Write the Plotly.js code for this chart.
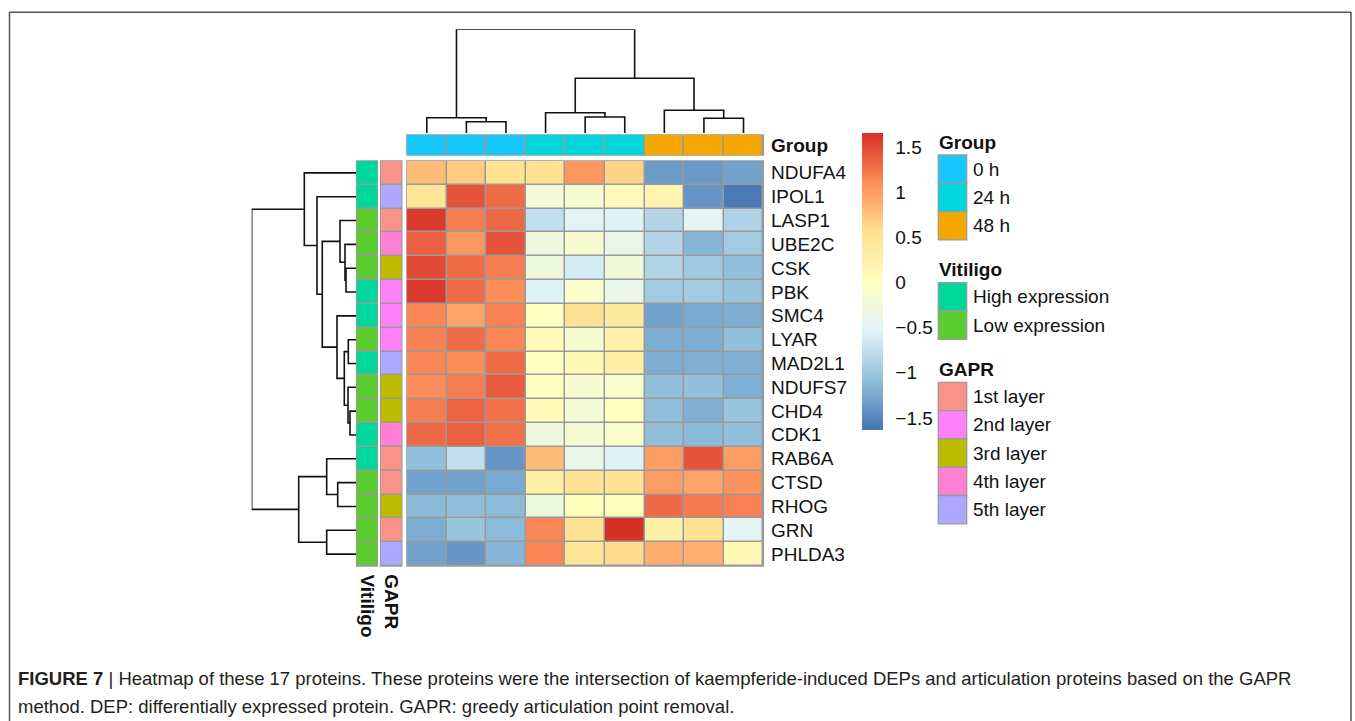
<!DOCTYPE html>
<html><head><meta charset="utf-8">
<script src="https://cdn.plot.ly/plotly-3.0.1.min.js"></script>
<style>html,body{margin:0;padding:0;background:#fff}#chart{width:1355px;height:721px}</style>
</head><body><div id="chart"></div>
<script>
// ---------------- data ----------------
const proteins = ['NDUFA4','IPOL1','LASP1','UBE2C','CSK','PBK','SMC4','LYAR','MAD2L1','NDUFS7','CHD4','CDK1','RAB6A','CTSD','RHOG','GRN','PHLDA3'];
const sampleGroup = ['0 h','0 h','0 h','24 h','24 h','24 h','48 h','48 h','48 h'];
const groupLevels = ['0 h','24 h','48 h'];
const groupColors = ['#18C8FC','#00D6DC','#F4A700'];
const vitiligo = ['High expression','High expression','Low expression','Low expression','Low expression','High expression','High expression','Low expression','High expression','Low expression','Low expression','High expression','High expression','Low expression','Low expression','Low expression','Low expression'];
const vitiligoLevels = ['High expression','Low expression'];
const vitiligoColors = ['#00D79B','#5CCD2E'];
const gapr = ['1st layer','5th layer','1st layer','4th layer','3rd layer','2nd layer','2nd layer','2nd layer','5th layer','3rd layer','3rd layer','4th layer','1st layer','1st layer','3rd layer','1st layer','5th layer'];
const gaprLevels = ['1st layer','2nd layer','3rd layer','4th layer','5th layer'];
const gaprColors = ['#F99289','#FF80F8','#BDBB00','#FF80D3','#ACA8FF'];
const zScores = [
  [0.80, 0.70, 0.55, 0.55, 1.05, 0.65, -1.35, -1.37, -1.30],
  [0.45, 1.45, 1.30, -0.20, -0.15, 0.10, 0.20, -1.40, -1.60],
  [1.60, 1.20, 1.32, -0.75, -0.52, -0.55, -0.85, -0.48, -0.88],
  [1.38, 1.05, 1.45, -0.30, -0.15, -0.40, -0.85, -1.15, -0.97],
  [1.50, 1.30, 1.20, -0.28, -0.60, -0.25, -0.87, -0.98, -1.08],
  [1.60, 1.30, 1.10, -0.55, -0.10, -0.38, -0.97, -0.97, -1.03],
  [1.15, 0.95, 1.17, 0.00, 0.50, 0.38, -1.30, -1.25, -1.22],
  [1.17, 1.30, 1.15, 0.10, -0.15, 0.25, -1.22, -1.22, -1.08],
  [1.15, 1.10, 1.30, 0.00, 0.12, 0.30, -1.22, -1.20, -1.20],
  [1.10, 1.20, 1.40, 0.00, -0.15, -0.10, -1.08, -1.08, -1.20],
  [1.20, 1.35, 1.27, 0.10, -0.20, 0.00, -1.10, -1.20, -1.02],
  [1.32, 1.38, 1.28, -0.30, -0.18, -0.10, -1.10, -1.13, -1.08],
  [-1.08, -0.75, -1.40, 0.80, -0.40, -0.55, 1.00, 1.45, 1.00],
  [-1.30, -1.30, -1.25, 0.30, 0.50, 0.50, 1.00, 0.95, 1.07],
  [-1.13, -1.10, -1.12, -0.30, 0.05, 0.03, 1.32, 1.22, 1.17],
  [-1.22, -1.02, -1.12, 1.15, 0.55, 1.65, 0.30, 0.50, -0.48],
  [-1.30, -1.38, -1.15, 1.15, 0.47, 0.60, 0.90, 0.88, 0.15]
];
// hclust-style merges (negative = leaf, positive = earlier merge)
const colMergeA = [-2, -1, -5, -4, -8, -7, 4, 2];
const colMergeB = [-3, 1, -6, 3, -9, 5, 6, 7];
const colMergeH = [11.3, 15.3, 16, 20.3, 14.7, 22.7, 54.7, 103.7];
const rowMergeA = [-11, -8, -10, -5, -4, 2, -3, -14, -7, -13, -16, 7, -2, -1, 10, 14];
const rowMergeB = [-12, -9, 1, -6, 4, 3, 5, -15, 6, 8, -17, 9, 12, 13, 11, 15];
const rowMergeH = [6, 7.7, 8, 10, 11, 11.7, 16, 18.3, 19, 29.3, 29.3, 33.7, 39, 51.7, 57.3, 104.3];
const cbTicks = [-1.5, -1, -0.5, 0, 0.5, 1, 1.5];
const zRange = [-1.633, 1.655];
const palette = ['#4575B4','#91BFDB','#E0F3F8','#FFFFBF','#FEE090','#FC8D59','#D73027'];

// ---------------- layout helpers ----------------
const W = 1355, H = 721;
const FONT = '"Liberation Sans", Arial, Helvetica, sans-serif';
const fx = p => p / W;
const fy = p => 1 - p / H;
const box = {
  heat:  [407, 763.3, 161, 566],
  group: [407, 763.3, 135, 155],
  vit:   [356.7, 377.3, 161, 566],
  gapr:  [380.7, 401.7, 161, 566],
  cden:  [407, 763.3, 29.3, 133],
  rden:  [251.7, 356, 161, 566]
};
const xdom = b => [fx(b[0]), fx(b[1])];
const ydom = b => [fy(b[3]), fy(b[2])];

function discreteScale(colors) {
  const n = colors.length, s = [];
  colors.forEach((c, i) => { s.push([i / n, c]); s.push([(i + 1) / n, c]); });
  return s;
}
function dendro(A, B, Hs) {
  const pos = [], xs = [], hs = [];
  const P = i => i < 0 ? -i - 1 : pos[i - 1];
  const Hh = i => i < 0 ? 0 : Hs[i - 1];
  for (let k = 0; k < A.length; k++) {
    const pa = P(A[k]), pb = P(B[k]), ha = Hh(A[k]), hb = Hh(B[k]), h = Hs[k];
    xs.push(pa, pa, pb, pb, null); hs.push(ha, h, h, hb, null);
    pos.push((pa + pb) / 2);
  }
  return { pos: xs, h: hs };
}

const nC = sampleGroup.length, nR = proteins.length;
const colIdx = sampleGroup.map((_, i) => i);
const rowIdx = proteins.map((_, i) => i);
const heatScale = palette.map((c, i) => [i / (palette.length - 1), c]);

const traces = [];
traces.push({
  type: 'heatmap', x: colIdx, y: rowIdx, z: zScores, xaxis: 'x', yaxis: 'y',
  zmin: zRange[0], zmax: zRange[1], colorscale: heatScale, xgap: 1.5, ygap: 1.5,
  hoverinfo: 'skip',
  colorbar: {
    x: fx(862), xanchor: 'left', xpad: 0, y: fy(133), yanchor: 'top', ypad: 0,
    len: 297, lenmode: 'pixels', thickness: 21, thicknessmode: 'pixels',
    outlinewidth: 0, tickvals: cbTicks, ticks: 'outside', ticklen: 9, tickcolor: 'rgba(0,0,0,0)',
    tickfont: { family: FONT, size: 19, color: '#111' }
  }
});
traces.push({
  type: 'heatmap', x: colIdx, y: [0], z: [sampleGroup.map(g => groupLevels.indexOf(g))],
  xaxis: 'x', yaxis: 'y2', zmin: -0.5, zmax: groupLevels.length - 0.5,
  colorscale: discreteScale(groupColors), showscale: false, xgap: 1.5, ygap: 0, hoverinfo: 'skip'
});
traces.push({
  type: 'heatmap', x: [0], y: rowIdx, z: vitiligo.map(v => [vitiligoLevels.indexOf(v)]),
  xaxis: 'x3', yaxis: 'y', zmin: -0.5, zmax: vitiligoLevels.length - 0.5,
  colorscale: discreteScale(vitiligoColors), showscale: false, xgap: 0, ygap: 1.5, hoverinfo: 'skip'
});
traces.push({
  type: 'heatmap', x: [0], y: rowIdx, z: gapr.map(v => [gaprLevels.indexOf(v)]),
  xaxis: 'x4', yaxis: 'y', zmin: -0.5, zmax: gaprLevels.length - 0.5,
  colorscale: discreteScale(gaprColors), showscale: false, xgap: 0, ygap: 1.5, hoverinfo: 'skip'
});
const cd = dendro(colMergeA, colMergeB, colMergeH);
traces.push({
  type: 'scatter', mode: 'lines', x: cd.pos, y: cd.h, xaxis: 'x', yaxis: 'y5',
  line: { color: '#111', width: 1.6 }, hoverinfo: 'skip', showlegend: false
});
const rd = dendro(rowMergeA, rowMergeB, rowMergeH);
traces.push({
  type: 'scatter', mode: 'lines', x: rd.h, y: rd.pos, xaxis: 'x6', yaxis: 'y',
  line: { color: '#111', width: 1.6 }, hoverinfo: 'skip', showlegend: false
});

const hid = { visible: false, fixedrange: true, showgrid: false, zeroline: false };
const colMax = Math.max(...colMergeH), rowMax = Math.max(...rowMergeH);

const shapes = [];
const rect = (b, pad) => ({
  type: 'rect', xref: 'paper', yref: 'paper', layer: 'below',
  x0: fx(b[0] - pad), x1: fx(b[1] + pad), y0: fy(b[3] + pad), y1: fy(b[2] - pad),
  fillcolor: '#9a9a9a', line: { width: 0 }
});
shapes.push(rect(box.heat, 0.8), rect(box.group, 0.8), rect(box.vit, 0.8), rect(box.gapr, 0.8));
const frame = { color: '#555', width: 1.5 };
shapes.push({ type: 'line', xref: 'paper', yref: 'paper', x0: fx(9.5), x1: fx(9.5), y0: fy(12), y1: fy(730), line: frame });
shapes.push({ type: 'line', xref: 'paper', yref: 'paper', x0: fx(9.5), x1: fx(1351), y0: fy(12.2), y1: fy(12.2), line: frame });
shapes.push({ type: 'line', xref: 'paper', yref: 'paper', x0: fx(1351), x1: fx(1351), y0: fy(12), y1: fy(730), line: frame });

const annotations = [];
const txt = (text, x, y, opts) => Object.assign({
  text, x, y, xref: 'paper', yref: 'paper', showarrow: false, xanchor: 'left', yanchor: 'middle',
  font: { family: FONT, size: 19, color: '#111' }
}, opts || {});
proteins.forEach((p, i) => annotations.push(txt(p, fx(769), i, { yref: 'y' })));
annotations.push(txt('<b>Group</b>', fx(769), 0, { yref: 'y2' }));
annotations.push(txt('<b>Vitiligo</b>', fx((box.vit[0] + box.vit[1]) / 2), fy(572), { textangle: 90, xanchor: 'center', yanchor: 'top' }));
annotations.push(txt('<b>GAPR</b>', fx((box.gapr[0] + box.gapr[1]) / 2), fy(572), { textangle: 90, xanchor: 'center', yanchor: 'top' }));

const legBlocks = [
  { title: 'Group', levels: groupLevels, colors: groupColors, top: 155 },
  { title: 'Vitiligo', levels: vitiligoLevels, colors: vitiligoColors, top: 282.7 },
  { title: 'GAPR', levels: gaprLevels, colors: gaprColors, top: 382.3 }
];
const LX0 = 938.3, LX1 = 966.7, LH = 28.3;
legBlocks.forEach(b => {
  annotations.push(txt('<b>' + b.title + '</b>', fx(937), fy(b.top - 13)));
  b.levels.forEach((lv, i) => {
    const y0 = b.top + i * LH;
    shapes.push({ type: 'rect', xref: 'paper', yref: 'paper', x0: fx(LX0), x1: fx(LX1), y0: fy(y0 + LH), y1: fy(y0),
      fillcolor: b.colors[i], line: { color: '#9a9a9a', width: 1.3 } });
    annotations.push(txt(lv, fx(971), fy(y0 + LH / 2)));
  });
});

const CAP = '"Liberation Sans Narrow", "Arial Narrow", "Liberation Sans", sans-serif';
annotations.push(txt('<b>FIGURE 7</b> | Heatmap of these 17 proteins. These proteins were the intersection of kaempferide-induced DEPs and articulation proteins based on the GAPR',
  fx(16), fy(678), { font: { family: CAP, size: 18.5, color: '#231F20' } }));
annotations.push(txt('method. DEP: differentially expressed protein. GAPR: greedy articulation point removal.',
  fx(16), fy(706), { font: { family: CAP, size: 18.5, color: '#231F20' } }));

const layout = {
  width: W, height: H, margin: { l: 0, r: 0, t: 0, b: 0 },
  paper_bgcolor: '#fff', plot_bgcolor: 'rgba(0,0,0,0)', showlegend: false,
  xaxis: Object.assign({ domain: xdom(box.heat), range: [-0.5, nC - 0.5] }, hid),
  yaxis: Object.assign({ domain: ydom(box.heat), range: [nR - 0.5, -0.5] }, hid),
  yaxis2: Object.assign({ domain: ydom(box.group), range: [-0.5, 0.5] }, hid),
  xaxis3: Object.assign({ domain: xdom(box.vit), range: [-0.5, 0.5] }, hid),
  xaxis4: Object.assign({ domain: xdom(box.gapr), range: [-0.5, 0.5] }, hid),
  yaxis5: Object.assign({ domain: ydom(box.cden), range: [0, colMax] }, hid),
  xaxis6: Object.assign({ domain: xdom(box.rden), range: [rowMax, 0] }, hid),
  shapes, annotations
};
Plotly.newPlot('chart', traces, layout, { displayModeBar: false, staticPlot: true });
</script>
</body></html>
